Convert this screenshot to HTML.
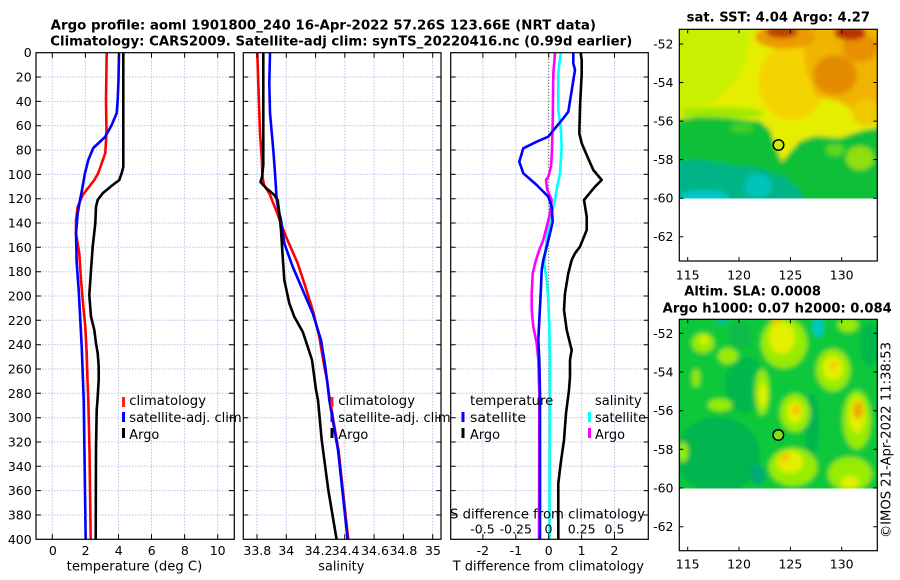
<!DOCTYPE html>
<html><head><meta charset="utf-8"><style>
html,body{margin:0;padding:0;background:#fff;}
svg{display:block;}
text{font-family:"DejaVu Sans","Liberation Sans",sans-serif;fill:#000;}
.t{font-size:12.5px;}
.l{font-size:13px;}
.b{font-size:13px;font-weight:bold;}
</style></head><body>
<svg width="900" height="580" viewBox="0 0 900 580" xmlns="http://www.w3.org/2000/svg">
<defs>
<clipPath id="c1"><rect x="36" y="52.7" width="198.3" height="486.6"/></clipPath>
<clipPath id="c2"><rect x="243.3" y="52.7" width="197.7" height="486.6"/></clipPath>
<clipPath id="c3"><rect x="450.7" y="52.7" width="197.6" height="486.6"/></clipPath>
<clipPath id="m1"><rect x="679.3" y="29.3" width="198" height="169.2"/></clipPath>
<clipPath id="m2"><rect x="679.3" y="319.3" width="198" height="169.2"/></clipPath>
<filter id="bl" x="-10%" y="-10%" width="120%" height="120%"><feGaussianBlur stdDeviation="2.5"/></filter>
<filter id="bl2" x="-10%" y="-10%" width="120%" height="120%"><feGaussianBlur stdDeviation="2.5"/></filter>
<g id="hg"><path d="M0 77H198M0 101.4H198M0 125.7H198M0 150H198M0 174.4H198M0 198.7H198M0 223H198M0 247.3H198M0 271.7H198M0 296H198M0 320.3H198M0 344.7H198M0 369H198M0 393.3H198M0 417.7H198M0 442H198M0 466.3H198M0 490.6H198M0 515H198" fill="none" stroke="#b9c1e6" stroke-width="1" stroke-dasharray="1.5,1.5"/></g>
<g id="yt"><path d="M0 77h5M0 101.4h5M0 125.7h5M0 150h5M0 174.4h5M0 198.7h5M0 223h5M0 247.3h5M0 271.7h5M0 296h5M0 320.3h5M0 344.7h5M0 369h5M0 393.3h5M0 417.7h5M0 442h5M0 466.3h5M0 490.6h5M0 515h5M198 77h-5M198 101.4h-5M198 125.7h-5M198 150h-5M198 174.4h-5M198 198.7h-5M198 223h-5M198 247.3h-5M198 271.7h-5M198 296h-5M198 320.3h-5M198 344.7h-5M198 369h-5M198 393.3h-5M198 417.7h-5M198 442h-5M198 466.3h-5M198 490.6h-5M198 515h-5" fill="none" stroke="#000" stroke-width="1"/></g>
</defs>
<rect width="900" height="580" fill="#fff"/>

<!-- Titles -->
<text class="b" x="50.7" y="29.3" textLength="545.3" lengthAdjust="spacingAndGlyphs">Argo profile: aoml 1901800_240 16-Apr-2022 57.26S 123.66E (NRT data)</text>
<text class="b" x="50.3" y="45.7" textLength="582" lengthAdjust="spacingAndGlyphs">Climatology: CARS2009. Satellite-adj clim: synTS_20220416.nc (0.99d earlier)</text>

<!-- Grids -->
<use href="#hg" transform="translate(36,0)"/>
<use href="#hg" transform="translate(243.3,0)"/>
<use href="#hg" transform="translate(450.7,0)"/>
<path d="M52.3 52.7V539.3M85.4 52.7V539.3M118.5 52.7V539.3M151.5 52.7V539.3M184.6 52.7V539.3M217.7 52.7V539.3M257 52.7V539.3M286.3 52.7V539.3M315.6 52.7V539.3M344.8 52.7V539.3M374.1 52.7V539.3M403.4 52.7V539.3M432.7 52.7V539.3M482.9 52.7V539.3M515.8 52.7V539.3M581.6 52.7V539.3M614.5 52.7V539.3" fill="none" stroke="#b9c1e6" stroke-width="1" stroke-dasharray="1.5,1.5"/>
<path d="M548.7 52.7V539.3" stroke="#333" stroke-width="1" stroke-dasharray="1,2"/>

<!-- Panel 1 lines -->
<g clip-path="url(#c1)" fill="none" stroke-width="2.6" stroke-linejoin="round" stroke-linecap="round">
<polyline stroke="#ff0000" points="106.7,53 106,100 106.5,133 105.3,153 98.3,173 94.3,180 82.7,195 77.7,206.7 76,220 76,233.3 79.3,253.3 81,280 83.3,306.7 85.3,326.7 86.7,353.3 87.5,380 88.3,400 89.5,450 90.7,540"/>
<polyline stroke="#0000ff" points="119,53 118.5,80 117.7,100 116.7,113 111.7,125 105,137 93.3,148 88.3,160 85,173 82,190 80,200 77.7,213.3 76,233.3 76.7,263.3 78.7,290 80.3,320 81.7,346.7 82.7,373.3 83.7,400 84.7,470 85.7,540"/>
<polyline stroke="#000" points="123.3,53 123.3,167 121.7,173 119.3,180 112.7,185 102.7,193.3 97.7,200 96,206.7 95.3,223.3 92.7,246.7 91,270 89.3,295 91,316.7 94.3,330 96,343.3 97.7,353.3 98.7,366.7 98.7,380 97.5,400 96.7,410 96,450 95.7,540"/>
</g>

<!-- Panel 2 lines -->
<g clip-path="url(#c2)" fill="none" stroke-width="2.6" stroke-linejoin="round" stroke-linecap="round">
<polyline stroke="#ff0000" points="257.3,53 258.3,83 260,133 261.7,157 262.5,177 264,185 269.3,193.3 276,210 281,223.3 286,236.7 297.7,263.3 304.3,283.3 312.7,310 319.3,336.7 324.3,366.7 327,380 329.8,400 338.5,450 348.3,540"/>
<polyline stroke="#0000ff" points="270,53 269.3,83 270,113 273.3,150 275,173 276.7,200 278.5,210 281,220 284.3,243.3 292.7,266.7 302.7,290 312.7,313.3 321,340 325.3,366.7 327,380 329.3,400 338,450 347.7,540"/>
<polyline stroke="#000" points="263.3,53 263.3,165 262,177 260.5,182 266,188 274.3,195 277.7,200 279.3,213.3 281,230 282.7,256.7 284.3,280 289.3,303.3 294.3,316.7 302.7,331.7 307.7,346.7 312,360 314,375 316,390 318,400 321.7,440 328.3,490 336.7,540"/>
</g>

<!-- Panel 3 lines -->
<g clip-path="url(#c3)" fill="none" stroke-width="2.6" stroke-linejoin="round" stroke-linecap="round">
<polyline stroke="#00ffff" points="560.7,53.3 558.3,73.3 558.3,110 560.7,126.7 561.7,146.7 560,173.3 556.7,190 555,200 551.7,213.3 547.3,233.3 545,256.7 544.3,265 546.7,280 548.3,300 549.3,326.7 550,360 549.5,540"/>
<polyline stroke="#ff00ff" points="555,53.3 553.3,73.3 552.7,123.3 552,150 551,166.7 548.3,176.7 546,180 547.3,190 551.7,200 550,213.3 546.7,226.7 543.3,240 539.3,250 536,260 532.7,273.3 531.7,293.3 531.7,310 533.3,326.7 536.7,343.3 538.3,360 539.3,393.3 539,540"/>
<polyline stroke="#0000ff" points="573.3,53.3 573.3,63.3 575,70 568.3,111.7 563.3,118.3 555,128.3 548.3,136.7 536.7,141.7 523.3,148.3 519.3,161.7 523.3,173.3 536.7,185 548.3,196.7 551.7,206.7 552.7,221.7 550,233.3 546.7,246.7 543.3,260 541.7,270 540.7,293.3 539.3,320 538.3,340 539.3,360 540,393.3 540,540"/>
<polyline stroke="#000" points="580.7,53.3 581.7,60 581.7,73.3 580,106.7 579.3,133.3 581.7,143.3 586.7,155 593.3,170 601.7,180 595,186.7 586.7,196.7 584,200 586.7,216.7 586.7,230 580,246.7 575,253.3 571.7,260 568.3,273.3 565,293.3 564,310 566.7,330 570,343.3 571.7,350 570,360 570,376.7 569,390 566,413.3 564,440 560.7,463.3 558.3,483.3 558.3,540"/>
</g>

<!-- Axes boxes and ticks -->
<rect x="36" y="52.7" width="198.3" height="486.6" fill="none" stroke="#000" stroke-width="1.2"/>
<rect x="243.3" y="52.7" width="197.7" height="486.6" fill="none" stroke="#000" stroke-width="1.2"/>
<rect x="450.7" y="52.7" width="197.6" height="486.6" fill="none" stroke="#000" stroke-width="1.2"/>
<use href="#yt" transform="translate(36,0)"/>
<use href="#yt" transform="translate(243.3,0)"/>
<use href="#yt" transform="translate(450.7,0)"/>
<path d="M52.3 52.7v5M85.4 52.7v5M118.5 52.7v5M151.5 52.7v5M184.6 52.7v5M217.7 52.7v5M257 52.7v5M286.3 52.7v5M315.6 52.7v5M344.8 52.7v5M374.1 52.7v5M403.4 52.7v5M432.7 52.7v5M482.9 52.7v5M515.8 52.7v5M548.7 52.7v5M581.6 52.7v5M614.5 52.7v5M52.3 539.3v-5M85.4 539.3v-5M118.5 539.3v-5M151.5 539.3v-5M184.6 539.3v-5M217.7 539.3v-5M257 539.3v-5M286.3 539.3v-5M315.6 539.3v-5M344.8 539.3v-5M374.1 539.3v-5M403.4 539.3v-5M432.7 539.3v-5M482.9 539.3v-5M515.8 539.3v-5M548.7 539.3v-5M581.6 539.3v-5M614.5 539.3v-5" stroke="#000" stroke-width="1" fill="none"/>

<!-- Y tick labels -->
<g class="t" text-anchor="end">
<text x="31.7" y="57.2">0</text>
<text x="31.7" y="81.5">20</text>
<text x="31.7" y="105.9">40</text>
<text x="31.7" y="130.2">60</text>
<text x="31.7" y="154.5">80</text>
<text x="31.7" y="178.9">100</text>
<text x="31.7" y="203.2">120</text>
<text x="31.7" y="227.5">140</text>
<text x="31.7" y="251.8">160</text>
<text x="31.7" y="276.2">180</text>
<text x="31.7" y="300.5">200</text>
<text x="31.7" y="324.8">220</text>
<text x="31.7" y="349.2">240</text>
<text x="31.7" y="373.5">260</text>
<text x="31.7" y="397.8">280</text>
<text x="31.7" y="422.2">300</text>
<text x="31.7" y="446.5">320</text>
<text x="31.7" y="470.8">340</text>
<text x="31.7" y="495.1">360</text>
<text x="31.7" y="519.5">380</text>
<text x="31.7" y="543.8">400</text>
</g>

<!-- X tick labels -->
<g class="t" text-anchor="middle">
<text x="52.8" y="555">0</text>
<text x="85.6" y="555">2</text>
<text x="118.7" y="555">4</text>
<text x="151.7" y="555">6</text>
<text x="184.8" y="555">8</text>
<text x="217.7" y="555">10</text>
<text x="257.3" y="555">33.8</text>
<text x="286.3" y="555">34</text>
<text x="318.5" y="555">34.2</text>
<text x="345.5" y="555">34.4</text>
<text x="375" y="555">34.6</text>
<text x="403.4" y="555">34.8</text>
<text x="433" y="555">35</text>
<text x="482.9" y="555">-2</text>
<text x="515.8" y="555">-1</text>
<text x="548.7" y="555">0</text>
<text x="581.6" y="555">1</text>
<text x="614.5" y="555">2</text>
</g>
<text class="l" x="66.7" y="570.5" textLength="135.6" lengthAdjust="spacingAndGlyphs">temperature (deg C)</text>
<text class="l" x="318.3" y="570.5" textLength="46" lengthAdjust="spacingAndGlyphs">salinity</text>
<text class="l" x="452.7" y="570.5" textLength="191.3" lengthAdjust="spacingAndGlyphs">T difference from climatology</text>

<!-- S axis labels inside panel 3 -->
<text class="l" x="450" y="518.3" textLength="195" lengthAdjust="spacingAndGlyphs">S difference from climatology</text>
<g class="t" text-anchor="middle">
<text x="482.5" y="533.3">-0.5</text>
<text x="515.8" y="533.3">-0.25</text>
<text x="548.5" y="533.3">0</text>
<text x="581.7" y="533.3">0.25</text>
<text x="614.5" y="533.3">0.5</text>
</g>

<!-- Legends -->
<rect x="122" y="397" width="3" height="10" fill="#ff2020"/>
<rect x="122" y="412" width="3" height="10" fill="#0000ff"/>
<rect x="122" y="428" width="3" height="10" fill="#000"/>
<text class="l" x="129.3" y="405" textLength="76.7" lengthAdjust="spacingAndGlyphs">climatology</text>
<text class="l" x="129.3" y="422" textLength="112.4" lengthAdjust="spacingAndGlyphs">satellite-adj. clim</text>
<text class="l" x="129.3" y="439" textLength="30" lengthAdjust="spacingAndGlyphs">Argo</text>

<rect x="330.5" y="397" width="3" height="10" fill="#ff2020"/>
<rect x="330.5" y="412" width="3" height="10" fill="#0000ff"/>
<rect x="330.5" y="428" width="3" height="10" fill="#000"/>
<text class="l" x="338.3" y="405" textLength="76.7" lengthAdjust="spacingAndGlyphs">climatology</text>
<text class="l" x="338.3" y="422" textLength="112.4" lengthAdjust="spacingAndGlyphs">satellite-adj. clim</text>
<text class="l" x="338.3" y="439" textLength="30" lengthAdjust="spacingAndGlyphs">Argo</text>

<text class="l" x="470" y="405" textLength="83.3" lengthAdjust="spacingAndGlyphs">temperature</text>
<rect x="461.5" y="412" width="3" height="10" fill="#0000ff"/>
<rect x="461.5" y="428" width="3" height="10" fill="#000"/>
<text class="l" x="470" y="422" textLength="56" lengthAdjust="spacingAndGlyphs">satellite</text>
<text class="l" x="470" y="439" textLength="30" lengthAdjust="spacingAndGlyphs">Argo</text>
<text class="l" x="595" y="405" textLength="46.7" lengthAdjust="spacingAndGlyphs">salinity</text>
<rect x="588" y="412" width="3" height="10" fill="#00ffff"/>
<rect x="588" y="428" width="3" height="10" fill="#ff00ff"/>
<text class="l" x="595" y="422" textLength="51" lengthAdjust="spacingAndGlyphs">satellite</text>
<text class="l" x="595" y="439" textLength="30" lengthAdjust="spacingAndGlyphs">Argo</text>

<!-- Map 1: SST -->
<text class="b" x="686.7" y="21.5" textLength="183.3" lengthAdjust="spacingAndGlyphs">sat. SST: 4.04 Argo: 4.27</text>
<g clip-path="url(#m1)">
<g filter="url(#bl)">
<rect x="670" y="20" width="215" height="190" fill="#e6ee00"/>
<polygon points="670,20 752,20 746,60 736,80 716,100 690,112 670,114" fill="#c8f000"/>
<ellipse cx="792" cy="82" rx="34" ry="38" fill="#f4d400"/>
<polygon points="800,20 885,20 885,110 862,116 840,102 816,96 806,70" fill="#f0b400"/>
<ellipse cx="835" cy="75" rx="22" ry="20" fill="#e48c00"/>
<ellipse cx="860" cy="48" rx="18" ry="14" fill="#e89000"/>
<ellipse cx="785" cy="37" rx="30" ry="12" fill="#ec9a00"/>
<ellipse cx="782" cy="32" rx="16" ry="6" fill="#c04000"/>
<ellipse cx="850" cy="33" rx="16" ry="7" fill="#b83000"/>
<ellipse cx="866" cy="112" rx="14" ry="14" fill="#f0c800"/>
<ellipse cx="722" cy="113" rx="42" ry="6" fill="#a0e800"/>
<polygon points="670,120 700,117 722,118 760,121 770,130 777,150 782,162 790,152 800,141 815,136 840,138 860,131 885,126 885,210 670,210" fill="#10c038"/>
<ellipse cx="860" cy="158" rx="14" ry="12" fill="#90e010"/>
<ellipse cx="835" cy="150" rx="9" ry="6" fill="#60d820"/>
<ellipse cx="742" cy="128" rx="12" ry="5" fill="#40d028"/>
<polygon points="670,162 700,160 730,165 760,168 785,178 800,190 806,210 670,210" fill="#00b488"/>
<ellipse cx="705" cy="197" rx="24" ry="7" fill="#00c8c8"/>
<ellipse cx="758" cy="186" rx="14" ry="12" fill="#00c4b8"/>
</g>
</g>
<rect x="679.3" y="29.3" width="198" height="231.7" fill="none" stroke="#000" stroke-width="1.2"/>
<circle cx="778.5" cy="145" r="5.3" fill="#c8f000" stroke="#000" stroke-width="1.5"/>

<!-- Map 2: SLA -->
<text class="b" x="684.3" y="295.7" textLength="136.7" lengthAdjust="spacingAndGlyphs">Altim. SLA: 0.0008</text>
<text class="b" x="662.7" y="312.3" textLength="229" lengthAdjust="spacingAndGlyphs">Argo h1000: 0.07 h2000: 0.084</text>
<g clip-path="url(#m2)">
<g filter="url(#bl2)">
<rect x="670" y="310" width="215" height="190" fill="#10c83a"/>
<ellipse cx="718" cy="455" rx="42" ry="38" fill="#00b450"/>
<ellipse cx="745" cy="385" rx="20" ry="28" fill="#04b84c"/>
<ellipse cx="812" cy="425" rx="7" ry="32" fill="#00b450"/>
<ellipse cx="870" cy="345" rx="10" ry="22" fill="#06b84a"/>
<ellipse cx="740" cy="335" rx="12" ry="14" fill="#08bc48"/>
<g fill="#98ec00">
<ellipse cx="703" cy="343" rx="11" ry="10"/>
<ellipse cx="728" cy="356" rx="10" ry="8"/>
<ellipse cx="784" cy="343" rx="23" ry="25"/>
<ellipse cx="848" cy="325" rx="10" ry="7"/>
<ellipse cx="833" cy="370" rx="17" ry="21"/>
<ellipse cx="762" cy="392" rx="7" ry="23"/>
<ellipse cx="795" cy="413" rx="15" ry="19"/>
<ellipse cx="857" cy="420" rx="14" ry="29"/>
<ellipse cx="793" cy="467" rx="24" ry="19"/>
<ellipse cx="850" cy="474" rx="22" ry="17"/>
<ellipse cx="720" cy="405" rx="12" ry="6"/>
<ellipse cx="683" cy="452" rx="5" ry="10"/>
<ellipse cx="696" cy="378" rx="4" ry="9"/>
</g>
<g fill="#e4f000">
<ellipse cx="782" cy="338" rx="13" ry="16"/>
<ellipse cx="833" cy="368" rx="10" ry="12"/>
<ellipse cx="763" cy="395" rx="4" ry="12"/>
<ellipse cx="795" cy="412" rx="8" ry="11"/>
<ellipse cx="857" cy="415" rx="8" ry="18"/>
<ellipse cx="790" cy="462" rx="13" ry="11"/>
<ellipse cx="850" cy="482" rx="9" ry="6"/>
<ellipse cx="704" cy="340" rx="4" ry="4"/>
</g>
<ellipse cx="858" cy="410" rx="5" ry="9" fill="#f0a800"/>
<ellipse cx="796" cy="410" rx="4" ry="5" fill="#f4c000"/>
<ellipse cx="834" cy="365" rx="4" ry="4" fill="#f4c800"/>
<ellipse cx="776" cy="321" rx="5" ry="3" fill="#f4c000"/>
<ellipse cx="785" cy="458" rx="5" ry="5" fill="#f4c800"/>
<ellipse cx="818" cy="327" rx="5" ry="10" fill="#00c8c8"/>
<ellipse cx="722" cy="321" rx="6" ry="3" fill="#00c0a0"/>
<ellipse cx="758" cy="475" rx="7" ry="10" fill="#00a878"/>
</g>
</g>
<rect x="679.3" y="319.3" width="198" height="231.4" fill="none" stroke="#000" stroke-width="1.2"/>
<circle cx="778.3" cy="435" r="5.3" fill="#80e020" stroke="#000" stroke-width="1.5"/>

<!-- Map ticks -->
<path d="M679.3 44h4M679.3 82.5h4M679.3 121.1h4M679.3 159.6h4M679.3 198.2h4M679.3 236.7h4M877.3 44h-4M877.3 82.5h-4M877.3 121.1h-4M877.3 159.6h-4M877.3 198.2h-4M877.3 236.7h-4M687.7 29.3v4M739 29.3v4M790.4 29.3v4M841.7 29.3v4M687.7 261v-4M739 261v-4M790.4 261v-4M841.7 261v-4M679.3 333.3h4M679.3 372h4M679.3 410.7h4M679.3 449.3h4M679.3 488h4M679.3 526.7h4M877.3 333.3h-4M877.3 372h-4M877.3 410.7h-4M877.3 449.3h-4M877.3 488h-4M877.3 526.7h-4M687.7 319.3v4M739 319.3v4M790.4 319.3v4M841.7 319.3v4M687.7 550.7v-4M739 550.7v-4M790.4 550.7v-4M841.7 550.7v-4" stroke="#000" stroke-width="1" fill="none"/>
<g class="t" text-anchor="end">
<text x="673.5" y="48.5">-52</text>
<text x="673.5" y="87">-54</text>
<text x="673.5" y="125.6">-56</text>
<text x="673.5" y="164.1">-58</text>
<text x="673.5" y="202.7">-60</text>
<text x="673.5" y="241.2">-62</text>
<text x="673.5" y="337.8">-52</text>
<text x="673.5" y="376.5">-54</text>
<text x="673.5" y="415.2">-56</text>
<text x="673.5" y="453.8">-58</text>
<text x="673.5" y="492.5">-60</text>
<text x="673.5" y="531.2">-62</text>
</g>
<g class="t" text-anchor="middle">
<text x="687.7" y="279.5">115</text>
<text x="739" y="279.5">120</text>
<text x="790.4" y="279.5">125</text>
<text x="841.7" y="279.5">130</text>
<text x="687.7" y="568.7">115</text>
<text x="739" y="568.7">120</text>
<text x="790.4" y="568.7">125</text>
<text x="841.7" y="568.7">130</text>
</g>
<text class="l" transform="translate(890.5,538) rotate(-90)" textLength="196" lengthAdjust="spacingAndGlyphs">©IMOS 21-Apr-2022 11:38:53</text>
</svg>
</body></html>
